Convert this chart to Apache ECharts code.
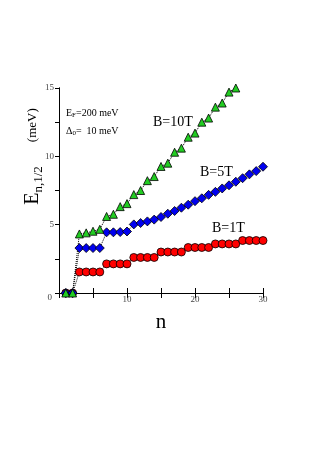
<!DOCTYPE html>
<html>
<head>
<meta charset="utf-8">
<script src="https://cdn.jsdelivr.net/npm/echarts@6/dist/echarts.min.js"></script>
<style>
html,body{margin:0;padding:0;background:#fff;}
#chart{width:327px;height:466px;}
</style>
</head>
<body>
<div id="chart"></div>
<script>
// n = 1..30
var nValues = [1,2,3,4,5,6,7,8,9,10,11,12,13,14,15,16,17,18,19,20,21,22,23,24,25,26,27,28,29,30];
var b1T = [0,0,1.54,1.54,1.54,1.54,2.13,2.13,2.13,2.13,2.6,2.6,2.6,2.6,3.0,3.0,3.0,3.0,3.33,3.33,3.33,3.33,3.59,3.59,3.59,3.59,3.84,3.84,3.84,3.84];
var b5T = [0,0,3.29,3.29,3.29,3.29,4.44,4.44,4.46,4.5,5.02,5.12,5.24,5.37,5.56,5.8,6.0,6.24,6.46,6.72,6.93,7.18,7.4,7.65,7.88,8.14,8.4,8.68,8.92,9.24];
var b10T = [0,0,4.32,4.4,4.52,4.66,5.6,5.76,6.32,6.54,7.2,7.5,8.22,8.52,9.26,9.5,10.3,10.6,11.4,11.7,12.5,12.8,13.6,13.9,14.7,15.0];
var xTicks = [10,20,30];
var yTicks = [0,5,10,15];

function pairs(arr){
    return arr.map(function(v,i){ return [nValues[i], v]; });
}

var serif = '"Liberation Serif","DejaVu Serif",serif';
var chart = echarts.init(document.getElementById('chart'));

function mkSeries(name, data, symbol, color, size){
    return {
        name: name,
        type: 'line',
        data: pairs(data),
        symbol: symbol,
        symbolSize: size,
        lineStyle: {color:'#000', width:1, type:'dotted'},
        itemStyle: {color: color, borderColor:'#000', borderWidth:0.8},
        animation: false,
        z: 3
    };
}

var option = {
    backgroundColor: '#fff',
    grid: {left: 59, right: 64, top: 88, bottom: 173},
    xAxis: [{
        type: 'value', min: 0, max: 30, interval: 5,
        name: 'n', nameLocation: 'middle', nameGap: 19,
        nameTextStyle: {fontFamily: serif, fontSize: 21, color:'#000'},
        axisLine: {lineStyle:{color:'#000', width:1}},
        axisTick: {inside: true, length: 5, lineStyle:{color:'#000'}},
        axisLabel: {
            fontFamily: serif, fontSize: 9, color:'#444', margin: 2,
            formatter: function(v){ return xTicks.indexOf(v) >= 0 ? String(v) : ''; }
        },
        splitLine: {show:false}
    },{
        type: 'value', min: 0, max: 30, interval: 5, position: 'top',
        axisLine: {lineStyle:{color:'#000', width:1}},
        axisTick: {inside: true, length: 5, lineStyle:{color:'#000'}},
        axisLabel: {show:false}, splitLine: {show:false}
    }],
    yAxis: [{
        type: 'value', min: 0, max: 15, interval: 2.5,
        name: '{e|E}{s|n,1/2}{g|}{u|(meV)}', nameLocation: 'middle', nameGap: 14,
        nameMoveOverlap: false,
        nameTextStyle: {
            color:'#000',
            padding: [0,0,0,68],
            rich: {
                e: {fontFamily: serif, fontSize: 20, color:'#000'},
                s: {fontFamily: serif, fontSize: 13, color:'#000', padding:[12,0,0,0]},
                g: {width: 24},
                u: {fontFamily: serif, fontSize: 13, color:'#000'}
            }
        },
        axisLine: {lineStyle:{color:'#000', width:1}},
        axisTick: {inside: false, length: 3, lineStyle:{color:'#000'}},
        axisLabel: {
            fontFamily: serif, fontSize: 9, color:'#444', margin: 5,
            formatter: function(v){ return yTicks.indexOf(v) >= 0 ? (v === 0 ? '{z|0}' : String(v)) : ''; },
            rich: {z: {fontFamily: serif, fontSize: 9, color:'#444', padding:[10,2,0,0]}}
        },
        splitLine: {show:false}
    },{
        type: 'value', min: 0, max: 15, interval: 2.5, position: 'right',
        axisLine: {lineStyle:{color:'#000', width:1}},
        axisTick: {inside: true, length: 4, lineStyle:{color:'#000'}},
        axisLabel: {show:false}, splitLine: {show:false}
    }],
    series: [
        mkSeries('B=1T', b1T, 'circle', '#ff0000', 8),
        mkSeries('B=5T', b5T, 'diamond', '#0000ee', 9),
        mkSeries('B=10T', b10T, 'triangle', '#22cc22', 8)
    ],
    graphic: [
        {type:'text', left: 66, top: 108, style:{text:'{a|E}{b|F}{a|=200 meV}', rich:{a:{fontFamily:serif,fontSize:10,fill:'#000'}, b:{fontFamily:serif,fontSize:7,fill:'#000',padding:[5,0,0,0]}}}},
        {type:'text', left: 66, top: 126, style:{text:'{a|Δ}{b|0}{a|=  10 meV}', rich:{a:{fontFamily:serif,fontSize:10,fill:'#000'}, b:{fontFamily:serif,fontSize:7,fill:'#000',padding:[5,0,0,0]}}}},
        {type:'text', left: 153, top: 115, style:{text:'B=10T', font:'14px ' + serif, fill:'#000'}},
        {type:'text', left: 200, top: 165, style:{text:'B=5T', font:'14px ' + serif, fill:'#000'}},
        {type:'text', left: 212, top: 221, style:{text:'B=1T', font:'14px ' + serif, fill:'#000'}}
    ]
};

chart.setOption(option);
</script>
</body>
</html>
